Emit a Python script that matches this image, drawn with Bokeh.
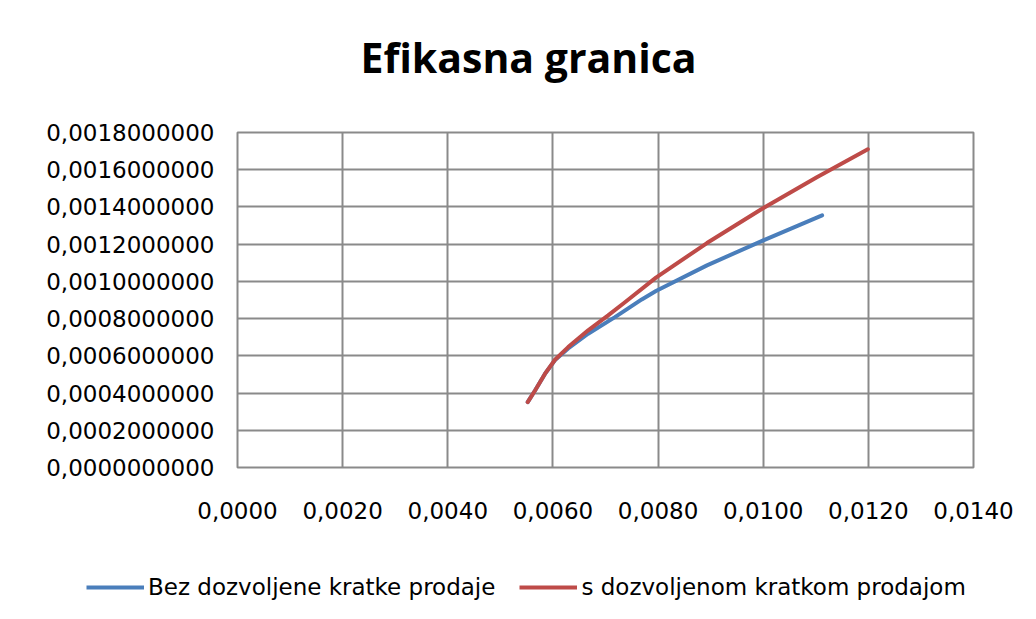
from bokeh.plotting import figure
from bokeh.layouts import column
from bokeh.models import Legend, LegendItem, FixedTicker, CustomJSTickFormatter, Title
from bokeh.embed import file_html
from bokeh.resources import INLINE

title_text = "Efikasna granica"
series_names = ["Bez dozvoljene kratke prodaje", "s dozvoljenom kratkom prodajom"]

x_ticks = [0.0, 0.002, 0.004, 0.006, 0.008, 0.010, 0.012, 0.014]
y_ticks = [0.0, 0.0002, 0.0004, 0.0006, 0.0008, 0.0010, 0.0012, 0.0014, 0.0016, 0.0018]

# Bez dozvoljene kratke prodaje (blue)
blue_x = [0.00552, 0.00566, 0.00585, 0.00604, 0.00629, 0.00667, 0.00718, 0.00769, 0.00796, 0.00893, 0.00998, 0.01112]
blue_y = [0.000351, 0.000414, 0.000504, 0.000577, 0.000640, 0.000719, 0.000808, 0.000903, 0.000948, 0.001086, 0.001218, 0.001355]

# s dozvoljenom kratkom prodajom (red)
red_x = [0.00552, 0.00566, 0.00585, 0.00604, 0.00629, 0.00667, 0.00705, 0.00737, 0.00796, 0.00893, 0.00998, 0.01102, 0.01199]
red_y = [0.000351, 0.000414, 0.000504, 0.000579, 0.000647, 0.000737, 0.000817, 0.000888, 0.001020, 0.001206, 0.001390, 0.001560, 0.001710]

BLUE = "#4A7EBB"
RED = "#BE4B48"
GRID = "#8a8a8a"
FONT = "DejaVu Sans"

W = 1020
H1, H2 = 540, 63

p = figure(width=W, height=H1, output_backend="svg", toolbar_location=None,
           x_range=(0, 0.014), y_range=(0, 0.0018),
           min_border_left=237, min_border_right=W - 973, min_border_top=132,
           min_border_bottom=H1 - 467)
p.frame_align = False

# invisible spacer between the title and the plot area
p.add_layout(Title(text=" ", text_font_size="1px", standoff=45), "above")

p.title.text = title_text
p.title.align = "left"
p.title.offset = 123
p.title.text_font = "Open Sans"
p.title.text_font_style = "bold"
p.title.text_font_size = "41px"
p.title.text_color = "#000000"
p.title.standoff = 0

p.outline_line_color = GRID
p.outline_line_width = 2

for ax in (p.xaxis[0], p.yaxis[0]):
    ax.axis_line_color = None
    ax.major_tick_line_color = None
    ax.minor_tick_line_color = None
    ax.major_label_text_font = FONT
    ax.major_label_text_font_size = "23px"
    ax.major_label_text_color = "#000000"

p.xaxis[0].ticker = FixedTicker(ticks=x_ticks)
p.yaxis[0].ticker = FixedTicker(ticks=y_ticks)
p.xaxis[0].formatter = CustomJSTickFormatter(code="return tick.toFixed(4).replace('.', ',');")
p.yaxis[0].formatter = CustomJSTickFormatter(code="return tick.toFixed(10).replace('.', ',');")
p.xaxis[0].major_label_standoff = 28
p.yaxis[0].major_label_standoff = 17

p.xgrid.ticker = FixedTicker(ticks=x_ticks)
p.ygrid.ticker = FixedTicker(ticks=y_ticks)
p.xgrid.grid_line_color = GRID
p.ygrid.grid_line_color = GRID
p.xgrid.grid_line_width = 2
p.ygrid.grid_line_width = 2

p.line(blue_x, blue_y, line_color=BLUE, line_width=4, line_cap="round", line_join="round")
p.line(red_x, red_y, line_color=RED, line_width=4, line_cap="round", line_join="round")

# legend strip below the chart (wider than the plot frame, as in the original)
q = figure(width=W, height=H2, output_backend="svg", toolbar_location=None,
           x_axis_type=None, y_axis_type=None, x_range=(0, 0.014), y_range=(0, 0.0018),
           min_border_left=0, min_border_right=0, min_border_top=0, min_border_bottom=0)
q.frame_align = False
q.outline_line_color = None
q.xgrid.visible = False
q.ygrid.visible = False
lb = q.line(blue_x, blue_y, line_color=BLUE, line_width=4, visible=False)
lr = q.line(red_x, red_y, line_color=RED, line_width=4, visible=False)

legend = Legend(items=[LegendItem(label=series_names[0], renderers=[lb]),
                       LegendItem(label=series_names[1], renderers=[lr])],
                orientation="horizontal", location=(86, 3),
                border_line_color=None, background_fill_alpha=0,
                label_text_font=FONT, label_text_font_size="23px", label_text_color="#000000",
                glyph_width=58, glyph_height=20, label_standoff=4, spacing=24,
                padding=0, margin=0)
q.add_layout(legend)

layout = column(p, q, spacing=0)
open("out.html", "w").write(file_html(layout, INLINE))
